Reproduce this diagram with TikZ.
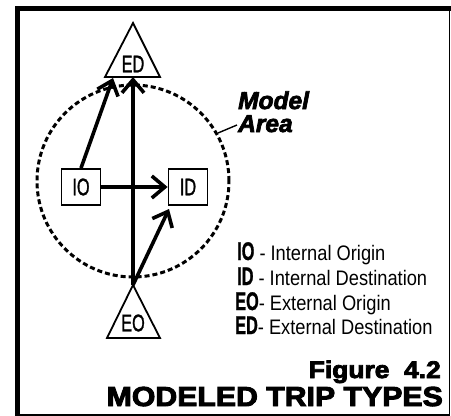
\documentclass[tikz,border=0pt]{standalone}
\usepackage{fontspec}
\setmainfont{Liberation Sans}
\newfontfamily\nodefont{Liberation Sans}[FakeStretch=0.68,FakeBold=1.2]
\newfontfamily\abbrfont{Liberation Sans}[FakeStretch=0.64,FakeBold=1]
\newfontfamily\descfont{Liberation Sans}[FakeStretch=0.87]
\newfontfamily\areafont{Liberation Sans}[FakeBold=3]
\newfontfamily\titlefont{Liberation Sans}[FakeStretch=1.1,FakeBold=3.5]
\usetikzlibrary{arrows.meta}

\tikzset{
    trip/.style={line width=3.6pt,-{Straight Barb[length=13pt,width=22pt]}},
    zonebox/.style={draw,line width=1.8pt,minimum width=39pt,minimum height=36pt,
        inner sep=0pt,font=\nodefont\fontsize{24}{24}\selectfont},
    zonelbl/.style={inner sep=0pt,font=\nodefont\fontsize{24}{24}\selectfont},
    keyrow/.style={anchor=base west,inner sep=0pt,font=\descfont\fontsize{21}{21}\selectfont},
}
\newcommand{\abbr}[1]{{\abbrfont\bfseries\fontsize{25.5}{25.5}\selectfont #1}}

\begin{document}
\begin{tikzpicture}[x=1pt,y=-1pt]
    \useasboundingbox (0,0) rectangle (451,416);
    % frame
    \draw[line width=1.4pt] (17,9) rectangle (449.5,415);
    \draw[line width=5pt] (17,416) -- (17,8) -- (451,8);

    % model area
    \draw[line width=3pt,dash pattern=on 5pt off 3pt] (133,181) circle [radius=96pt];
    \coordinate (rim) at (218,133);
    \node[anchor=base west,inner sep=0pt,align=left,
        font=\areafont\bfseries\itshape\fontsize{24.5}{23}\selectfont] (area) at (238,132) {Model\\Area};
    \draw[line width=1.4pt] (rim) -- (237,125);

    % external destination
    \coordinate (EDtop) at (133,23);
    \coordinate (EDl) at (105,77);
    \coordinate (EDr) at (160,77);
    \coordinate (EDb) at (133,77);
    \coordinate (EDbl) at (113,78);
    \draw[line width=1.8pt,line join=miter] (EDtop) -- (EDl) -- (EDr) -- cycle;
    \node[zonelbl] (ED) at (133,64) {ED};

    % external origin
    \coordinate (EOtop) at (133,285);
    \coordinate (EOl) at (107,338);
    \coordinate (EOr) at (160,338);
    \draw[line width=1.8pt,line join=miter] (EOtop) -- (EOl) -- (EOr) -- cycle;
    \node[zonelbl] (EO) at (133,323) {EO};

    % internal zones
    \node[zonebox] (IO) at (81,187) {IO};
    \node[zonebox] (ID) at (188,187) {ID};
    \coordinate (IDbl) at (169,209);

    % trips
    \draw[trip] (IO) -- (ID);
    \draw[trip] (EOtop) -- (EDb);
    \draw[trip] (IO.north) -- (EDbl);
    \draw[trip] (EOtop) -- (IDbl);

    % key
    \node[keyrow] (kIO) at (237,260) {\abbr{IO} - Internal Origin};
    \node[keyrow] (kID) at (237,285) {\abbr{ID} - Internal Destination};
    \node[keyrow] (kEO) at (235,310) {\abbr{EO}- External Origin};
    \node[keyrow] (kED) at (235,334) {\abbr{ED}- External Destination};

    % title
    \node[anchor=base east,inner sep=0pt,font=\titlefont\bfseries\fontsize{24}{24}\selectfont]
        (fig) at (441,378) {Figure\ \ 4.2};
    \node[anchor=base east,inner sep=0pt,font=\titlefont\bfseries\fontsize{27.5}{27.5}\selectfont]
        (title) at (443,406) {MODELED TRIP TYPES};
\end{tikzpicture}
\end{document}
